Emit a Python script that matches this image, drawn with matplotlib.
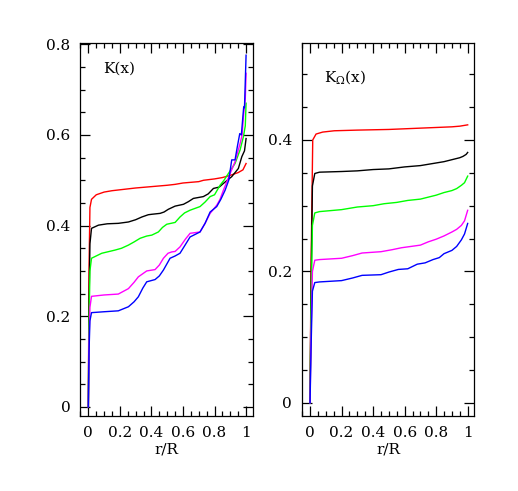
import numpy as np
import matplotlib
matplotlib.use("Agg")
import matplotlib.pyplot as plt
from matplotlib.ticker import MultipleLocator

plt.rcParams['font.family'] = ['DejaVu Serif']
plt.rcParams['mathtext.fontset'] = 'dejavuserif'

# left panel: K(x)
kx_red = [0, 0.004, 0.01, 0.02, 0.05, 0.1, 0.15, 0.2, 0.3, 0.4, 0.5, 0.55, 0.6, 0.7, 0.73, 0.8, 0.85, 0.9, 0.95, 0.98, 1.0]
ky_red = [0, 0.30, 0.44, 0.458, 0.468, 0.474, 0.477, 0.479, 0.483, 0.486, 0.489, 0.491, 0.494, 0.497, 0.500, 0.503, 0.506, 0.511, 0.517, 0.523, 0.537]

kx_black = [0, 0.004, 0.01, 0.02, 0.064, 0.12, 0.19, 0.254, 0.3, 0.339, 0.38, 0.402, 0.455, 0.48, 0.507, 0.55,
            0.603, 0.635, 0.666, 0.729, 0.76, 0.793, 0.83, 0.856, 0.909, 0.951, 0.973, 0.99, 1.0]
ky_black = [0, 0.22, 0.36, 0.394, 0.401, 0.404, 0.405, 0.408, 0.413, 0.419, 0.424, 0.425, 0.427, 0.430, 0.436, 0.443,
            0.447, 0.453, 0.460, 0.464, 0.470, 0.482, 0.485, 0.493, 0.508, 0.526, 0.552, 0.565, 0.592]

kx_green = [0, 0.004, 0.01, 0.02, 0.085, 0.169, 0.21, 0.254, 0.29, 0.328, 0.37, 0.402, 0.444, 0.47, 0.497, 0.55,
            0.581, 0.61, 0.645, 0.708, 0.74, 0.772, 0.8, 0.835, 0.86, 0.888, 0.93, 0.962, 0.983, 0.995, 1.0]
ky_green = [0, 0.18, 0.30, 0.328, 0.339, 0.346, 0.350, 0.357, 0.364, 0.372, 0.377, 0.379, 0.386, 0.396, 0.403, 0.407,
            0.419, 0.428, 0.434, 0.442, 0.452, 0.464, 0.468, 0.489, 0.500, 0.515, 0.537, 0.567, 0.596, 0.62, 0.67]

kx_magenta = [0, 0.004, 0.01, 0.02, 0.1, 0.19, 0.254, 0.29, 0.317, 0.37, 0.423, 0.45, 0.476, 0.505, 0.529, 0.55,
              0.581, 0.615, 0.645, 0.708, 0.74, 0.772, 0.814, 0.835, 0.856, 0.899, 0.93, 0.962, 0.975, 0.983, 0.995, 1.0]
ky_magenta = [0, 0.14, 0.22, 0.244, 0.247, 0.249, 0.261, 0.275, 0.287, 0.300, 0.303, 0.313, 0.328, 0.339, 0.342, 0.343,
              0.353, 0.370, 0.383, 0.386, 0.405, 0.427, 0.445, 0.458, 0.478, 0.515, 0.541, 0.581, 0.60, 0.64, 0.68, 0.736]

kx_blue = [0, 0.004, 0.01, 0.02, 0.1, 0.19, 0.254, 0.29, 0.317, 0.345, 0.37, 0.423, 0.45, 0.476, 0.518, 0.55,
           0.581, 0.615, 0.645, 0.708, 0.74, 0.772, 0.814, 0.84, 0.867, 0.89, 0.909, 0.93, 0.945, 0.96, 0.97, 0.985, 0.99, 1.0]
ky_blue = [0, 0.12, 0.19, 0.208, 0.210, 0.212, 0.221, 0.232, 0.243, 0.262, 0.276, 0.281, 0.289, 0.302, 0.328, 0.333,
           0.339, 0.358, 0.375, 0.386, 0.405, 0.430, 0.442, 0.458, 0.478, 0.50, 0.545, 0.545, 0.575, 0.603, 0.600, 0.662, 0.660, 0.776]

# right panel: K_Omega(x)
ox_red = [0, 0.006, 0.017, 0.038, 0.08, 0.154, 0.3, 0.5, 0.7, 0.8, 0.9, 0.95, 1.0]
oy_red = [0, 0.20, 0.40, 0.409, 0.412, 0.414, 0.415, 0.416, 0.418, 0.419, 0.420, 0.421, 0.423]

ox_black = [0, 0.006, 0.015, 0.03, 0.06, 0.2, 0.3, 0.4, 0.5, 0.6, 0.7, 0.8, 0.85, 0.9, 0.95, 0.97, 0.99, 1.0]
oy_black = [0, 0.17, 0.33, 0.349, 0.351, 0.352, 0.353, 0.355, 0.356, 0.359, 0.361, 0.365, 0.367, 0.370, 0.373, 0.375, 0.378, 0.381]

ox_green = [0, 0.006, 0.015, 0.03, 0.06, 0.2, 0.3, 0.4, 0.47, 0.55, 0.62, 0.7, 0.75, 0.8, 0.85, 0.9, 0.93, 0.96, 0.98, 1.0]
oy_green = [0, 0.14, 0.27, 0.289, 0.291, 0.294, 0.298, 0.300, 0.303, 0.305, 0.308, 0.310, 0.313, 0.316, 0.320, 0.323, 0.326, 0.331, 0.335, 0.345]

ox_magenta = [0, 0.006, 0.015, 0.03, 0.06, 0.2, 0.27, 0.33, 0.45, 0.52, 0.58, 0.7, 0.75, 0.8, 0.85, 0.9, 0.93, 0.96, 0.98, 1.0]
oy_magenta = [0, 0.10, 0.20, 0.217, 0.218, 0.220, 0.224, 0.228, 0.230, 0.233, 0.236, 0.240, 0.245, 0.249, 0.254, 0.260, 0.264, 0.270, 0.277, 0.293]

ox_blue = [0, 0.006, 0.015, 0.03, 0.06, 0.2, 0.27, 0.33, 0.45, 0.5, 0.56, 0.62, 0.68, 0.73, 0.78, 0.82, 0.85, 0.9, 0.93, 0.96, 0.98, 1.0]
oy_blue = [0, 0.08, 0.17, 0.183, 0.184, 0.186, 0.190, 0.194, 0.195, 0.199, 0.203, 0.204, 0.211, 0.213, 0.218, 0.221, 0.227, 0.232, 0.238, 0.248, 0.257, 0.273]

left_curves = [(kx_red, ky_red, 'red'), (kx_black, ky_black, 'black'), (kx_green, ky_green, '#00ff00'),
               (kx_magenta, ky_magenta, 'magenta'), (kx_blue, ky_blue, 'blue')]
right_curves = [(ox_red, oy_red, 'red'), (ox_black, oy_black, 'black'), (ox_green, oy_green, '#00ff00'),
                (ox_magenta, oy_magenta, 'magenta'), (ox_blue, oy_blue, 'blue')]

fig = plt.figure(figsize=(5.18, 4.91), dpi=100)
ax1 = fig.add_axes([80 / 518, 75 / 491, 172.7 / 518, 373.3 / 491])
ax2 = fig.add_axes([301.7 / 518, 75 / 491, 172.6 / 518, 373.3 / 491])


def style(ax, ymax, ymajor):
    ax.set_xlim(-0.053, 1.042)
    ax.set_ylim(-0.02, ymax)
    ax.xaxis.set_major_locator(MultipleLocator(0.2))
    ax.xaxis.set_minor_locator(MultipleLocator(0.05))
    ax.yaxis.set_major_locator(MultipleLocator(ymajor))
    ax.yaxis.set_minor_locator(MultipleLocator(0.05))
    ax.tick_params(which='both', direction='in', top=True, right=True, labelsize=11, width=0.9)
    ax.tick_params(which='major', length=7, pad=7)
    ax.tick_params(which='minor', length=3.5)
    ax.xaxis.set_major_formatter(plt.FuncFormatter(lambda v, p: '%g' % round(v, 2)))
    ax.yaxis.set_major_formatter(plt.FuncFormatter(lambda v, p: '%g' % round(v, 2)))
    for s in ax.spines.values():
        s.set_linewidth(0.9)
    ax.set_xlabel('r/R', fontsize=11, labelpad=2)


for x, y, c in left_curves:
    ax1.plot(x, y, color=c, lw=1.0)
for x, y, c in right_curves:
    ax2.plot(x, y, color=c, lw=1.0)

style(ax1, 0.8035, 0.2)
style(ax2, 0.548, 0.2)

ax1.text(0.135, 0.92, 'K(x)', transform=ax1.transAxes, fontsize=11)
ax2.text(0.13, 0.895, r'K$_{\Omega}$(x)', transform=ax2.transAxes, fontsize=11)

fig.savefig('out.png', dpi=100)
